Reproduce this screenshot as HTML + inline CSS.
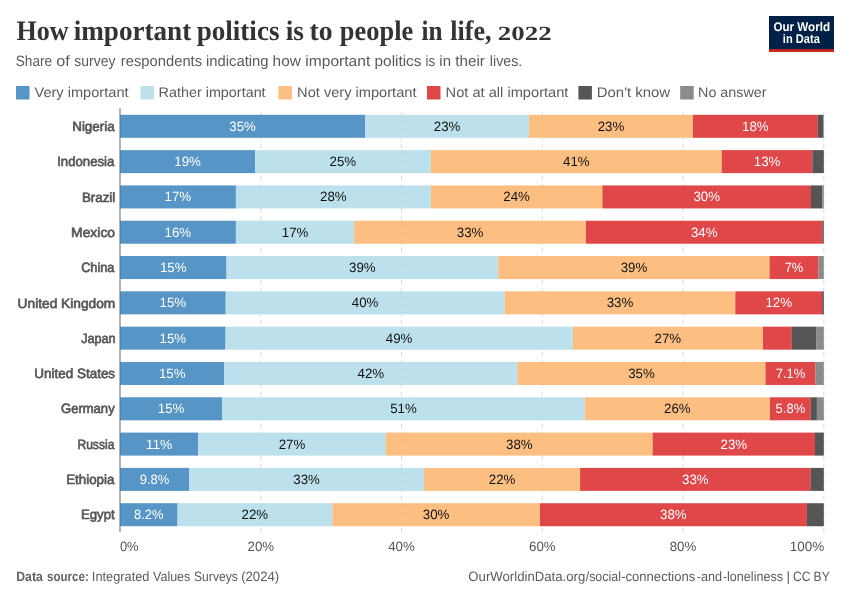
<!DOCTYPE html>
<html lang="en"><head><meta charset="utf-8"><title>How important politics is to people in life, 2022</title>
<style>
html,body{margin:0;padding:0;background:#fff;}
body{width:850px;height:600px;overflow:hidden;}
svg{display:block;}
text{font-family:"Liberation Sans",sans-serif;text-rendering:geometricPrecision;}
.title{font-family:"Liberation Serif",serif;font-weight:bold;font-size:28.2px;fill:#333;}
.t22{font-size:20.2px;}
.sub{font-size:15px;fill:#5b5b5b;}
.leg{font-size:14px;fill:#5b5b5b;}
.ent{font-size:13.5px;fill:#555;stroke:#555;stroke-width:0.65px;}
.tick{font-size:13.5px;fill:#555;}
.lw{font-size:13.5px;fill:#fff;text-anchor:middle;}
.ld{font-size:13.5px;fill:#111;text-anchor:middle;}
.foot{font-size:13.5px;fill:#5b5b5b;}
.fb{font-weight:bold;fill:#636363;font-size:13.5px;}
.logo{font-size:12.6px;font-weight:bold;fill:#fff;}
</style></head><body>
<svg width="850" height="600" viewBox="0 0 850 600">
<rect width="850" height="600" fill="#fff"/>
<text class="title" x="16.44" y="40.4" textLength="52.02" lengthAdjust="spacingAndGlyphs">How</text>
<text class="title" x="73.65" y="40.4" textLength="117.61" lengthAdjust="spacingAndGlyphs">important</text>
<text class="title" x="196.73" y="40.4" textLength="82.74" lengthAdjust="spacingAndGlyphs">politics</text>
<text class="title" x="285.77" y="40.4" textLength="18.25" lengthAdjust="spacingAndGlyphs">is</text>
<text class="title" x="309.57" y="40.4" textLength="23.11" lengthAdjust="spacingAndGlyphs">to</text>
<text class="title" x="339.86" y="40.4" textLength="73.34" lengthAdjust="spacingAndGlyphs">people</text>
<text class="title" x="421.44" y="40.4" textLength="20.96" lengthAdjust="spacingAndGlyphs">in</text>
<text class="title" x="450.25" y="40.4" textLength="41.20" lengthAdjust="spacingAndGlyphs">life,</text>
<text class="title t22" x="497.80" y="40.4" textLength="53.80" lengthAdjust="spacingAndGlyphs">2022</text>
<text class="sub" x="15.76" y="66.2" textLength="36.33" lengthAdjust="spacingAndGlyphs">Share</text>
<text class="sub" x="56.31" y="66.2" textLength="13.54" lengthAdjust="spacingAndGlyphs">of</text>
<text class="sub" x="74.36" y="66.2" textLength="41.12" lengthAdjust="spacingAndGlyphs">survey</text>
<text class="sub" x="120.86" y="66.2" textLength="81.22" lengthAdjust="spacingAndGlyphs">respondents</text>
<text class="sub" x="206.00" y="66.2" textLength="62.60" lengthAdjust="spacingAndGlyphs">indicating</text>
<text class="sub" x="272.61" y="66.2" textLength="28.23" lengthAdjust="spacingAndGlyphs">how</text>
<text class="sub" x="305.32" y="66.2" textLength="64.91" lengthAdjust="spacingAndGlyphs">important</text>
<text class="sub" x="374.57" y="66.2" textLength="46.90" lengthAdjust="spacingAndGlyphs">politics</text>
<text class="sub" x="425.52" y="66.2" textLength="9.66" lengthAdjust="spacingAndGlyphs">is</text>
<text class="sub" x="439.37" y="66.2" textLength="11.65" lengthAdjust="spacingAndGlyphs">in</text>
<text class="sub" x="455.27" y="66.2" textLength="29.65" lengthAdjust="spacingAndGlyphs">their</text>
<text class="sub" x="489.86" y="66.2" textLength="32.48" lengthAdjust="spacingAndGlyphs">lives.</text>
<rect x="769" y="16" width="65" height="36" fill="#002147"/>
<rect x="769" y="49.2" width="65" height="2.8" fill="#ce261e"/>
<text class="logo" x="773.42" y="30.7" textLength="56.62" lengthAdjust="spacingAndGlyphs">Our World</text>
<text class="logo" x="782.82" y="42.6" textLength="37.01" lengthAdjust="spacingAndGlyphs">in Data</text>
<rect x="16.0" y="86" width="13.5" height="13.5" fill="#2c7bb6" fill-opacity="0.8"/>
<rect x="140.5" y="86" width="13.5" height="13.5" fill="#abd9e9" fill-opacity="0.8"/>
<rect x="278.4" y="86" width="13.5" height="13.5" fill="#fdae61" fill-opacity="0.8"/>
<rect x="427.0" y="86" width="13.5" height="13.5" fill="#d7191c" fill-opacity="0.8"/>
<rect x="578.4" y="86" width="13.5" height="13.5" fill="#2b2b2b" fill-opacity="0.8"/>
<rect x="680.2" y="86" width="13.5" height="13.5" fill="#6e6e6e" fill-opacity="0.8"/>
<text class="leg" x="34.48" y="96.7" textLength="94.08" lengthAdjust="spacingAndGlyphs">Very important</text>
<text class="leg" x="158.58" y="96.7" textLength="107.05" lengthAdjust="spacingAndGlyphs">Rather important</text>
<text class="leg" x="297.10" y="96.7" textLength="119.40" lengthAdjust="spacingAndGlyphs">Not very important</text>
<text class="leg" x="445.58" y="96.7" textLength="122.84" lengthAdjust="spacingAndGlyphs">Not at all important</text>
<text class="leg" x="596.79" y="96.7" textLength="73.32" lengthAdjust="spacingAndGlyphs">Don't know</text>
<text class="leg" x="698.09" y="96.7" textLength="68.43" lengthAdjust="spacingAndGlyphs">No answer</text>
<line x1="260.8" x2="260.8" y1="112" y2="533" stroke="#ddd" stroke-width="1" stroke-dasharray="4.5,3.5"/>
<line x1="401.5" x2="401.5" y1="112" y2="533" stroke="#ddd" stroke-width="1" stroke-dasharray="4.5,3.5"/>
<line x1="542.3" x2="542.3" y1="112" y2="533" stroke="#ddd" stroke-width="1" stroke-dasharray="4.5,3.5"/>
<line x1="683.0" x2="683.0" y1="112" y2="533" stroke="#ddd" stroke-width="1" stroke-dasharray="4.5,3.5"/>
<line x1="823.8" x2="823.8" y1="112" y2="533" stroke="#ddd" stroke-width="1" stroke-dasharray="4.5,3.5"/>
<line x1="120" x2="120" y1="108.2" y2="532" stroke="#666" stroke-width="1"/>
<rect x="120.0" y="114.81" width="245.1" height="23.0" fill="#2c7bb6" fill-opacity="0.8"/>
<rect x="365.1" y="114.81" width="163.9" height="23.0" fill="#abd9e9" fill-opacity="0.8"/>
<rect x="529.0" y="114.81" width="163.9" height="23.0" fill="#fdae61" fill-opacity="0.8"/>
<rect x="692.9" y="114.81" width="124.9" height="23.0" fill="#d7191c" fill-opacity="0.8"/>
<rect x="817.8" y="114.81" width="5.5" height="23.0" fill="#2b2b2b" fill-opacity="0.8"/>
<rect x="823.3" y="114.81" width="0.5" height="23.0" fill="#6e6e6e" fill-opacity="0.8"/>
<text class="lw" x="242.6" y="130.8" textLength="26.6" lengthAdjust="spacingAndGlyphs">35%</text>
<text class="ld" x="447.1" y="130.8" textLength="26.6" lengthAdjust="spacingAndGlyphs">23%</text>
<text class="ld" x="611.0" y="130.8" textLength="26.6" lengthAdjust="spacingAndGlyphs">23%</text>
<text class="lw" x="755.3" y="130.8" textLength="26.6" lengthAdjust="spacingAndGlyphs">18%</text>
<rect x="120.0" y="150.12" width="135.1" height="23.0" fill="#2c7bb6" fill-opacity="0.8"/>
<rect x="255.1" y="150.12" width="175.7" height="23.0" fill="#abd9e9" fill-opacity="0.8"/>
<rect x="430.8" y="150.12" width="291.0" height="23.0" fill="#fdae61" fill-opacity="0.8"/>
<rect x="721.8" y="150.12" width="90.6" height="23.0" fill="#d7191c" fill-opacity="0.8"/>
<rect x="812.4" y="150.12" width="11.4" height="23.0" fill="#2b2b2b" fill-opacity="0.8"/>
<text class="lw" x="187.6" y="166.1" textLength="26.6" lengthAdjust="spacingAndGlyphs">19%</text>
<text class="ld" x="342.9" y="166.1" textLength="26.6" lengthAdjust="spacingAndGlyphs">25%</text>
<text class="ld" x="576.3" y="166.1" textLength="26.6" lengthAdjust="spacingAndGlyphs">41%</text>
<text class="lw" x="767.1" y="166.1" textLength="26.6" lengthAdjust="spacingAndGlyphs">13%</text>
<rect x="120.0" y="185.43" width="115.9" height="23.0" fill="#2c7bb6" fill-opacity="0.8"/>
<rect x="235.9" y="185.43" width="194.9" height="23.0" fill="#abd9e9" fill-opacity="0.8"/>
<rect x="430.8" y="185.43" width="171.6" height="23.0" fill="#fdae61" fill-opacity="0.8"/>
<rect x="602.4" y="185.43" width="208.6" height="23.0" fill="#d7191c" fill-opacity="0.8"/>
<rect x="811.0" y="185.43" width="11.3" height="23.0" fill="#2b2b2b" fill-opacity="0.8"/>
<rect x="822.3" y="185.43" width="1.5" height="23.0" fill="#6e6e6e" fill-opacity="0.8"/>
<text class="lw" x="177.9" y="201.4" textLength="26.6" lengthAdjust="spacingAndGlyphs">17%</text>
<text class="ld" x="333.4" y="201.4" textLength="26.6" lengthAdjust="spacingAndGlyphs">28%</text>
<text class="ld" x="516.6" y="201.4" textLength="26.6" lengthAdjust="spacingAndGlyphs">24%</text>
<text class="lw" x="706.7" y="201.4" textLength="26.6" lengthAdjust="spacingAndGlyphs">30%</text>
<rect x="120.0" y="220.74" width="115.9" height="23.0" fill="#2c7bb6" fill-opacity="0.8"/>
<rect x="235.9" y="220.74" width="118.3" height="23.0" fill="#abd9e9" fill-opacity="0.8"/>
<rect x="354.2" y="220.74" width="231.8" height="23.0" fill="#fdae61" fill-opacity="0.8"/>
<rect x="586.0" y="220.74" width="236.5" height="23.0" fill="#d7191c" fill-opacity="0.8"/>
<rect x="822.5" y="220.74" width="1.3" height="23.0" fill="#2b2b2b" fill-opacity="0.8"/>
<text class="lw" x="177.9" y="236.7" textLength="26.6" lengthAdjust="spacingAndGlyphs">16%</text>
<text class="ld" x="295.1" y="236.7" textLength="26.6" lengthAdjust="spacingAndGlyphs">17%</text>
<text class="ld" x="470.1" y="236.7" textLength="26.6" lengthAdjust="spacingAndGlyphs">33%</text>
<text class="lw" x="704.2" y="236.7" textLength="26.6" lengthAdjust="spacingAndGlyphs">34%</text>
<rect x="120.0" y="256.05" width="106.5" height="23.0" fill="#2c7bb6" fill-opacity="0.8"/>
<rect x="226.5" y="256.05" width="271.8" height="23.0" fill="#abd9e9" fill-opacity="0.8"/>
<rect x="498.3" y="256.05" width="271.3" height="23.0" fill="#fdae61" fill-opacity="0.8"/>
<rect x="769.6" y="256.05" width="48.9" height="23.0" fill="#d7191c" fill-opacity="0.8"/>
<rect x="818.5" y="256.05" width="5.3" height="23.0" fill="#6e6e6e" fill-opacity="0.8"/>
<text class="lw" x="173.2" y="272.0" textLength="26.6" lengthAdjust="spacingAndGlyphs">15%</text>
<text class="ld" x="362.4" y="272.0" textLength="26.6" lengthAdjust="spacingAndGlyphs">39%</text>
<text class="ld" x="634.0" y="272.0" textLength="26.6" lengthAdjust="spacingAndGlyphs">39%</text>
<text class="lw" x="794.0" y="272.0" textLength="18.7" lengthAdjust="spacingAndGlyphs">7%</text>
<rect x="120.0" y="291.36" width="105.7" height="23.0" fill="#2c7bb6" fill-opacity="0.8"/>
<rect x="225.7" y="291.36" width="278.9" height="23.0" fill="#abd9e9" fill-opacity="0.8"/>
<rect x="504.6" y="291.36" width="230.7" height="23.0" fill="#fdae61" fill-opacity="0.8"/>
<rect x="735.3" y="291.36" width="86.8" height="23.0" fill="#d7191c" fill-opacity="0.8"/>
<rect x="822.1" y="291.36" width="1.7" height="23.0" fill="#2b2b2b" fill-opacity="0.8"/>
<text class="lw" x="172.8" y="307.4" textLength="26.6" lengthAdjust="spacingAndGlyphs">15%</text>
<text class="ld" x="365.1" y="307.4" textLength="26.6" lengthAdjust="spacingAndGlyphs">40%</text>
<text class="ld" x="620.0" y="307.4" textLength="26.6" lengthAdjust="spacingAndGlyphs">33%</text>
<text class="lw" x="778.7" y="307.4" textLength="26.6" lengthAdjust="spacingAndGlyphs">12%</text>
<rect x="120.0" y="326.66" width="105.5" height="23.0" fill="#2c7bb6" fill-opacity="0.8"/>
<rect x="225.5" y="326.66" width="347.3" height="23.0" fill="#abd9e9" fill-opacity="0.8"/>
<rect x="572.8" y="326.66" width="190.2" height="23.0" fill="#fdae61" fill-opacity="0.8"/>
<rect x="763.0" y="326.66" width="28.8" height="23.0" fill="#d7191c" fill-opacity="0.8"/>
<rect x="791.8" y="326.66" width="24.4" height="23.0" fill="#2b2b2b" fill-opacity="0.8"/>
<rect x="816.2" y="326.66" width="7.6" height="23.0" fill="#6e6e6e" fill-opacity="0.8"/>
<text class="lw" x="172.8" y="342.7" textLength="26.6" lengthAdjust="spacingAndGlyphs">15%</text>
<text class="ld" x="399.1" y="342.7" textLength="26.6" lengthAdjust="spacingAndGlyphs">49%</text>
<text class="ld" x="667.9" y="342.7" textLength="26.6" lengthAdjust="spacingAndGlyphs">27%</text>
<rect x="120.0" y="361.98" width="104.3" height="23.0" fill="#2c7bb6" fill-opacity="0.8"/>
<rect x="224.3" y="361.98" width="293.1" height="23.0" fill="#abd9e9" fill-opacity="0.8"/>
<rect x="517.4" y="361.98" width="248.1" height="23.0" fill="#fdae61" fill-opacity="0.8"/>
<rect x="765.5" y="361.98" width="50.0" height="23.0" fill="#d7191c" fill-opacity="0.8"/>
<rect x="815.5" y="361.98" width="8.3" height="23.0" fill="#6e6e6e" fill-opacity="0.8"/>
<text class="lw" x="172.2" y="378.0" textLength="26.6" lengthAdjust="spacingAndGlyphs">15%</text>
<text class="ld" x="370.9" y="378.0" textLength="26.6" lengthAdjust="spacingAndGlyphs">42%</text>
<text class="ld" x="641.5" y="378.0" textLength="26.6" lengthAdjust="spacingAndGlyphs">35%</text>
<text class="lw" x="790.5" y="378.0" textLength="29.6" lengthAdjust="spacingAndGlyphs">7.1%</text>
<rect x="120.0" y="397.28" width="102.2" height="23.0" fill="#2c7bb6" fill-opacity="0.8"/>
<rect x="222.2" y="397.28" width="362.6" height="23.0" fill="#abd9e9" fill-opacity="0.8"/>
<rect x="584.8" y="397.28" width="185.2" height="23.0" fill="#fdae61" fill-opacity="0.8"/>
<rect x="770.0" y="397.28" width="40.7" height="23.0" fill="#d7191c" fill-opacity="0.8"/>
<rect x="810.7" y="397.28" width="6.2" height="23.0" fill="#2b2b2b" fill-opacity="0.8"/>
<rect x="816.9" y="397.28" width="6.9" height="23.0" fill="#6e6e6e" fill-opacity="0.8"/>
<text class="lw" x="171.1" y="413.3" textLength="26.6" lengthAdjust="spacingAndGlyphs">15%</text>
<text class="ld" x="403.5" y="413.3" textLength="26.6" lengthAdjust="spacingAndGlyphs">51%</text>
<text class="ld" x="677.4" y="413.3" textLength="26.6" lengthAdjust="spacingAndGlyphs">26%</text>
<text class="lw" x="790.4" y="413.3" textLength="29.6" lengthAdjust="spacingAndGlyphs">5.8%</text>
<rect x="120.0" y="432.60" width="78.1" height="23.0" fill="#2c7bb6" fill-opacity="0.8"/>
<rect x="198.1" y="432.60" width="187.8" height="23.0" fill="#abd9e9" fill-opacity="0.8"/>
<rect x="385.9" y="432.60" width="266.8" height="23.0" fill="#fdae61" fill-opacity="0.8"/>
<rect x="652.7" y="432.60" width="162.3" height="23.0" fill="#d7191c" fill-opacity="0.8"/>
<rect x="815.0" y="432.60" width="8.8" height="23.0" fill="#2b2b2b" fill-opacity="0.8"/>
<text class="lw" x="159.1" y="448.6" textLength="26.6" lengthAdjust="spacingAndGlyphs">11%</text>
<text class="ld" x="292.0" y="448.6" textLength="26.6" lengthAdjust="spacingAndGlyphs">27%</text>
<text class="ld" x="519.3" y="448.6" textLength="26.6" lengthAdjust="spacingAndGlyphs">38%</text>
<text class="lw" x="733.9" y="448.6" textLength="26.6" lengthAdjust="spacingAndGlyphs">23%</text>
<rect x="120.0" y="467.90" width="69.1" height="23.0" fill="#2c7bb6" fill-opacity="0.8"/>
<rect x="189.1" y="467.90" width="234.9" height="23.0" fill="#abd9e9" fill-opacity="0.8"/>
<rect x="424.0" y="467.90" width="156.1" height="23.0" fill="#fdae61" fill-opacity="0.8"/>
<rect x="580.1" y="467.90" width="230.6" height="23.0" fill="#d7191c" fill-opacity="0.8"/>
<rect x="810.7" y="467.90" width="13.1" height="23.0" fill="#2b2b2b" fill-opacity="0.8"/>
<text class="lw" x="154.6" y="483.9" textLength="29.6" lengthAdjust="spacingAndGlyphs">9.8%</text>
<text class="ld" x="306.6" y="483.9" textLength="26.6" lengthAdjust="spacingAndGlyphs">33%</text>
<text class="ld" x="502.1" y="483.9" textLength="26.6" lengthAdjust="spacingAndGlyphs">22%</text>
<text class="lw" x="695.4" y="483.9" textLength="26.6" lengthAdjust="spacingAndGlyphs">33%</text>
<rect x="120.0" y="503.22" width="57.5" height="23.0" fill="#2c7bb6" fill-opacity="0.8"/>
<rect x="177.5" y="503.22" width="154.9" height="23.0" fill="#abd9e9" fill-opacity="0.8"/>
<rect x="332.4" y="503.22" width="207.5" height="23.0" fill="#fdae61" fill-opacity="0.8"/>
<rect x="539.9" y="503.22" width="267.0" height="23.0" fill="#d7191c" fill-opacity="0.8"/>
<rect x="806.9" y="503.22" width="16.9" height="23.0" fill="#2b2b2b" fill-opacity="0.8"/>
<text class="lw" x="148.8" y="519.2" textLength="29.6" lengthAdjust="spacingAndGlyphs">8.2%</text>
<text class="ld" x="254.9" y="519.2" textLength="26.6" lengthAdjust="spacingAndGlyphs">22%</text>
<text class="ld" x="436.1" y="519.2" textLength="26.6" lengthAdjust="spacingAndGlyphs">30%</text>
<text class="lw" x="673.4" y="519.2" textLength="26.6" lengthAdjust="spacingAndGlyphs">38%</text>
<text class="ent" x="72.22" y="130.9" textLength="42.41" lengthAdjust="spacingAndGlyphs">Nigeria</text>
<text class="ent" x="57.21" y="166.2" textLength="57.18" lengthAdjust="spacingAndGlyphs">Indonesia</text>
<text class="ent" x="81.92" y="201.5" textLength="33.37" lengthAdjust="spacingAndGlyphs">Brazil</text>
<text class="ent" x="71.08" y="236.8" textLength="43.99" lengthAdjust="spacingAndGlyphs">Mexico</text>
<text class="ent" x="81.16" y="272.1" textLength="33.28" lengthAdjust="spacingAndGlyphs">China</text>
<text class="ent" x="17.61" y="307.5" textLength="97.69" lengthAdjust="spacingAndGlyphs">United Kingdom</text>
<text class="ent" x="81.16" y="342.8" textLength="34.23" lengthAdjust="spacingAndGlyphs">Japan</text>
<text class="ent" x="34.37" y="378.1" textLength="80.72" lengthAdjust="spacingAndGlyphs">United States</text>
<text class="ent" x="60.97" y="413.4" textLength="53.71" lengthAdjust="spacingAndGlyphs">Germany</text>
<text class="ent" x="77.40" y="448.7" textLength="37.00" lengthAdjust="spacingAndGlyphs">Russia</text>
<text class="ent" x="66.21" y="484.0" textLength="48.18" lengthAdjust="spacingAndGlyphs">Ethiopia</text>
<text class="ent" x="80.91" y="519.3" textLength="33.73" lengthAdjust="spacingAndGlyphs">Egypt</text>
<text class="tick" x="119.9" y="550.6" textLength="18.7" lengthAdjust="spacingAndGlyphs">0%</text>
<text class="tick" x="260.8" y="550.6" text-anchor="middle" textLength="26.6" lengthAdjust="spacingAndGlyphs">20%</text>
<text class="tick" x="401.5" y="550.6" text-anchor="middle" textLength="26.6" lengthAdjust="spacingAndGlyphs">40%</text>
<text class="tick" x="542.3" y="550.6" text-anchor="middle" textLength="26.6" lengthAdjust="spacingAndGlyphs">60%</text>
<text class="tick" x="683.0" y="550.6" text-anchor="middle" textLength="26.6" lengthAdjust="spacingAndGlyphs">80%</text>
<text class="tick" x="824.2" y="550.6" text-anchor="end" textLength="34.4" lengthAdjust="spacingAndGlyphs">100%</text>
<text class="foot fb" x="16.21" y="581.0" textLength="26.62" lengthAdjust="spacingAndGlyphs">Data</text>
<text class="foot fb" x="47.04" y="581.0" textLength="41.72" lengthAdjust="spacingAndGlyphs">source:</text>
<text class="foot" x="91.86" y="581.0" textLength="57.53" lengthAdjust="spacingAndGlyphs">Integrated</text>
<text class="foot" x="153.02" y="581.0" textLength="37.31" lengthAdjust="spacingAndGlyphs">Values</text>
<text class="foot" x="194.06" y="581.0" textLength="43.73" lengthAdjust="spacingAndGlyphs">Surveys</text>
<text class="foot" x="241.17" y="581.0" textLength="38.06" lengthAdjust="spacingAndGlyphs">(2024)</text>
<text class="foot" x="468.32" y="581.0" textLength="117.02" lengthAdjust="spacingAndGlyphs">OurWorldinData.org</text>
<text class="foot" x="585.69" y="581.0" textLength="35.28" lengthAdjust="spacingAndGlyphs">/social</text>
<text class="foot" x="621.17" y="581.0" textLength="74.12" lengthAdjust="spacingAndGlyphs">-connections</text>
<text class="foot" x="696.84" y="581.0" textLength="25.31" lengthAdjust="spacingAndGlyphs">-and</text>
<text class="foot" x="722.89" y="581.0" textLength="60.12" lengthAdjust="spacingAndGlyphs">-loneliness</text>
<text class="foot" x="786.41" y="581.0" textLength="3.58" lengthAdjust="spacingAndGlyphs">|</text>
<text class="foot" x="793.08" y="581.0" textLength="17.54" lengthAdjust="spacingAndGlyphs">CC</text>
<text class="foot" x="813.56" y="581.0" textLength="16.18" lengthAdjust="spacingAndGlyphs">BY</text>
</svg></body></html>
